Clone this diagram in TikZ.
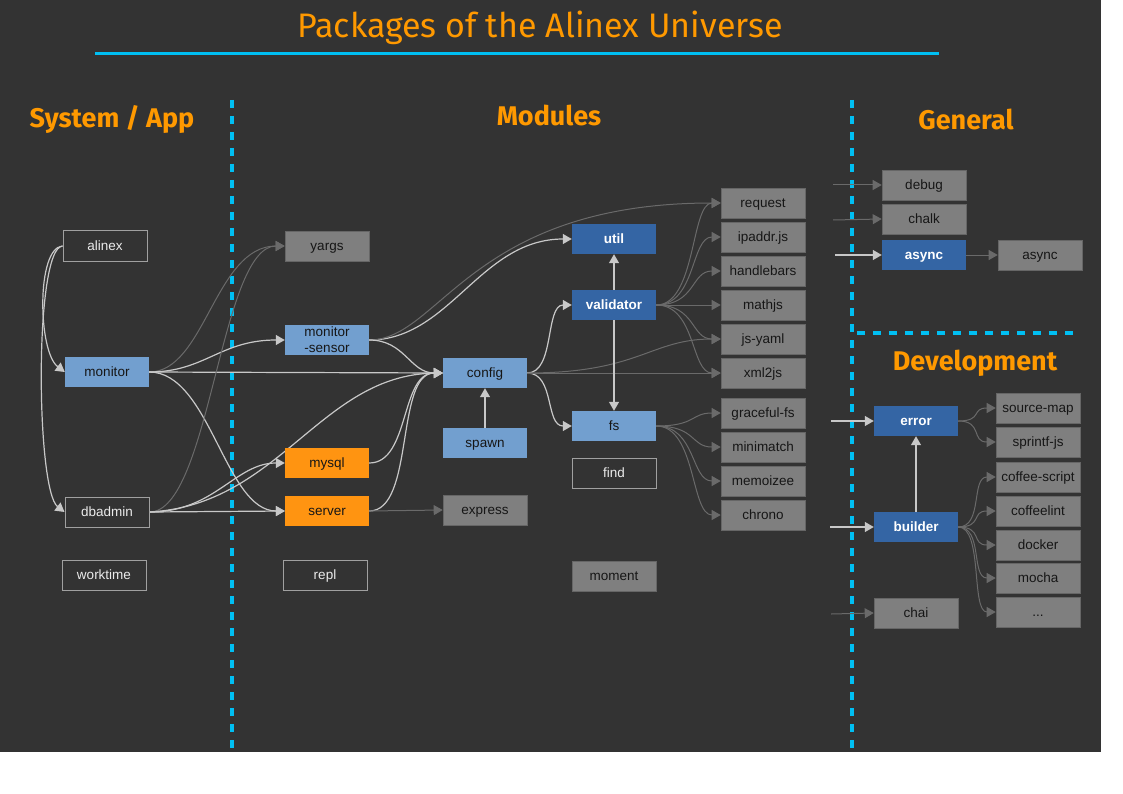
\documentclass[tikz,border=0pt]{standalone}
\usepackage{fontspec}
\setmainfont{Liberation Sans}
\newfontfamily\headfont{Fira Sans}
\usetikzlibrary{arrows.meta}

\definecolor{bgdark}{HTML}{333333}
\definecolor{linelite}{HTML}{C8C8C8}
\definecolor{linedark}{HTML}{6A6A6A}
\definecolor{boxgray}{HTML}{7F7F7F}
\definecolor{boxlite}{HTML}{729FCF}
\definecolor{boxblue}{HTML}{3465A4}
\definecolor{boxorange}{HTML}{FF9411}
\definecolor{boxtext}{HTML}{161616}
\definecolor{ownline}{HTML}{A0A0A0}
\definecolor{titleorange}{HTML}{FF9900}
\definecolor{sepcyan}{HTML}{00BFF3}

\pgfdeclarelayer{back}
\pgfdeclarelayer{edges}
\pgfsetlayers{back,edges,main}

\begin{document}
\begin{tikzpicture}[x=1pt,y=-1pt,>={Triangle[length=9pt,width=10pt]}]
        \tikzstyle{every node}=[font=\fontsize{13.5}{16}\selectfont]
        \tikzstyle{pkg}=[rectangle,minimum width=84pt,minimum height=30pt,inner sep=0pt,text height=11pt,text depth=2pt,text=boxtext]
        \tikzstyle{extbox}=[pkg,fill=boxgray,draw=boxgray!80!black,line width=0.6pt]
        \tikzstyle{ownbox}=[pkg,draw=ownline,line width=1pt,text=white!92!black]
        \tikzstyle{modbox}=[pkg,fill=boxlite]
        \tikzstyle{corebox}=[pkg,fill=boxblue,text=white,font=\fontsize{13.5}{16}\selectfont\bfseries]
        \tikzstyle{appbox}=[pkg,fill=boxorange]
        \tikzstyle{dep}=[draw=linelite,line width=1.2pt,->]
        \tikzstyle{extdep}=[draw=linedark,line width=1pt,->]
        \tikzstyle{divider}=[draw=sepcyan,line width=4pt,dash pattern=on 8pt off 8pt]
        \tikzstyle{colhead}=[anchor=base,text=titleorange,font=\headfont\fontsize{27}{30}\selectfont\bfseries]
        \useasboundingbox (0,0) rectangle (1123,794);
        \begin{pgfonlayer}{back}
        \fill[bgdark] (0,0) rectangle (1101,752);
        \draw[divider] (232,100) -- (232,752);
        \draw[divider] (852,100) -- (852,752);
        \draw[divider] (857,333) -- (1078,333);
        \end{pgfonlayer}
        \node[anchor=base,text=titleorange,font=\headfont\fontsize{34}{36}\selectfont] (title) at (540,38) {Packages of the Alinex Universe};
        \draw[sepcyan,line width=3pt] (95,54) -- (939,54);
        \node[colhead] (sysapp) at (112,128) {System / App};
        \node[colhead] (modules) at (549,126) {Modules};
        \node[colhead] (general) at (966,130) {General};
        \node[colhead] (development) at (975,370) {Development};
        % system / app
        \node[ownbox] (alinex) at (105,246) {alinex};
        \node[modbox] (monitor) at (107,372) {monitor};
        \node[ownbox] (dbadmin) at (107,512) {dbadmin};
        \node[ownbox] (worktime) at (104,575) {worktime};
        % modules
        \node[extbox] (yargs) at (327,246) {yargs};
        \node[modbox,align=center,text height={},text depth={}] (msensor) at (327,340) {monitor\\-sensor};
        \node[appbox] (mysql) at (327,463) {mysql};
        \node[appbox] (server) at (327,511) {server};
        \node[ownbox] (repl) at (325,575) {repl};
        \node[modbox] (config) at (485,373) {config};
        \node[modbox] (spawn) at (485,443) {spawn};
        \node[extbox] (express) at (485,510) {express};
        \node[corebox] (util) at (614,239) {util};
        \node[corebox] (validator) at (614,305) {validator};
        \node[modbox] (fs) at (614,426) {fs};
        \node[ownbox] (find) at (614,473) {find};
        \node[extbox] (moment) at (614,576) {moment};
        \node[extbox] (request) at (763,203) {request};
        \node[extbox] (ipaddr) at (763,237) {ipaddr.js};
        \node[extbox] (handlebars) at (763,271) {handlebars};
        \node[extbox] (mathjs) at (763,305) {mathjs};
        \node[extbox] (jsyaml) at (763,339) {js-yaml};
        \node[extbox] (xmltojs) at (763,373) {xml2js};
        \node[extbox] (gracefulfs) at (763,413) {graceful-fs};
        \node[extbox] (minimatch) at (763,447) {minimatch};
        \node[extbox] (memoizee) at (763,481) {memoizee};
        \node[extbox] (chrono) at (763,515) {chrono};
        % general
        \node[extbox] (debug) at (924,185) {debug};
        \node[extbox] (chalk) at (924,219) {chalk};
        \node[corebox] (async) at (924,255) {async};
        \node[extbox] (asynclib) at (1040,255) {async};
        % development
        \node[corebox] (error) at (916,421) {error};
        \node[corebox] (builder) at (916,527) {builder};
        \node[extbox] (chai) at (916,613) {chai};
        \node[extbox] (sourcemap) at (1038,408) {source-map};
        \node[extbox] (sprintf) at (1038,442) {sprintf-js};
        \node[extbox] (coffeescript) at (1038,477) {coffee-script};
        \node[extbox] (coffeelint) at (1038,511) {coffeelint};
        \node[extbox] (docker) at (1038,545) {docker};
        \node[extbox] (mocha) at (1038,578) {mocha};
        \node[extbox] (more) at (1038,612) {...};
        \coordinate (debugin) at (833,185);
        \coordinate (chalkin) at (833,220);
        \coordinate (asyncin) at (835,255);
        \coordinate (errorin) at (831,421);
        \coordinate (builderin) at (830,527);
        \coordinate (chaiin) at (831,614);
        \begin{pgfonlayer}{edges}
        \draw[dep] (alinex.west) .. controls (36,248) and (38,352) .. (monitor.west);
        \draw[dep] (alinex.west) .. controls (34,248) and (36,490) .. (dbadmin.west);
        \draw[extdep] (monitor.east) .. controls (205,372) and (215,246) .. (yargs.west);
        \draw[dep] (monitor.east) .. controls (205,372) and (220,340) .. (msensor.west);
        \draw[dep] (monitor.east) -- (config.west);
        \draw[dep] (monitor.east) .. controls (210,372) and (225,511) .. (server.west);
        \draw[extdep] (dbadmin.east) .. controls (210,512) and (220,246) .. (yargs.west);
        \draw[dep] (dbadmin.east) .. controls (215,512) and (235,463) .. (mysql.west);
        \draw[dep] (dbadmin.east) -- (server.west);
        \draw[dep] (dbadmin.east) .. controls (280,505) and (320,375) .. (config.west);
        \draw[dep] (msensor.east) .. controls (450,340) and (480,239) .. (util.west);
        \draw[extdep] (msensor.east) .. controls (440,340) and (470,203) .. (request.west);
        \draw[dep] (msensor.east) .. controls (405,340) and (410,373) .. (config.west);
        \draw[dep] (mysql.east) .. controls (410,463) and (400,373) .. (config.west);
        \draw[dep] (server.east) .. controls (415,511) and (395,373) .. (config.west);
        \draw[extdep] (server.east) -- (express.west);
        \draw[dep] (spawn) -- (config);
        \draw[dep] (config.east) .. controls (555,373) and (545,305) .. (validator.west);
        \draw[dep] (config.east) .. controls (555,373) and (545,426) .. (fs.west);
        \draw[extdep] (config.east) .. controls (640,373) and (650,339) .. (jsyaml.west);
        \draw[extdep] (config.east) -- (xmltojs.west);
        \draw[dep] (validator) -- (util);
        \draw[dep] (validator) -- (fs);
        \draw[extdep] (validator.east) .. controls +(40,0) and +(-30,0) .. (request.west);
        \draw[extdep] (validator.east) .. controls +(40,0) and +(-30,0) .. (ipaddr.west);
        \draw[extdep] (validator.east) .. controls +(40,0) and +(-30,0) .. (handlebars.west);
        \draw[extdep] (validator.east) -- (mathjs.west);
        \draw[extdep] (validator.east) .. controls +(40,0) and +(-30,0) .. (jsyaml.west);
        \draw[extdep] (validator.east) .. controls +(40,0) and +(-30,0) .. (xmltojs.west);
        \draw[extdep] (fs.east) .. controls +(40,0) and +(-30,0) .. (gracefulfs.west);
        \draw[extdep] (fs.east) .. controls +(40,0) and +(-30,0) .. (minimatch.west);
        \draw[extdep] (fs.east) .. controls +(40,0) and +(-30,0) .. (memoizee.west);
        \draw[extdep] (fs.east) .. controls +(40,0) and +(-30,0) .. (chrono.west);
        \draw[extdep] (debugin) -- (debug.west);
        \draw[extdep] (chalkin) -- (chalk.west);
        \draw[dep] (asyncin) -- (async.west);
        \draw[extdep] (async) -- (asynclib);
        \draw[dep] (errorin) -- (error.west);
        \draw[dep] (builderin) -- (builder.west);
        \draw[extdep] (chaiin) -- (chai.west);
        \draw[dep] (builder) -- (error);
        \draw[extdep] (error.east) .. controls +(25,0) and +(-25,0) .. (sourcemap.west);
        \draw[extdep] (error.east) .. controls +(25,0) and +(-25,0) .. (sprintf.west);
        \draw[extdep] (builder.east) .. controls +(25,0) and +(-25,0) .. (coffeescript.west);
        \draw[extdep] (builder.east) .. controls +(25,0) and +(-25,0) .. (coffeelint.west);
        \draw[extdep] (builder.east) .. controls +(25,0) and +(-25,0) .. (docker.west);
        \draw[extdep] (builder.east) .. controls +(25,0) and +(-25,0) .. (mocha.west);
        \draw[extdep] (builder.east) .. controls +(25,0) and +(-25,0) .. (more.west);
        \end{pgfonlayer}
    \end{tikzpicture}
\end{document}
